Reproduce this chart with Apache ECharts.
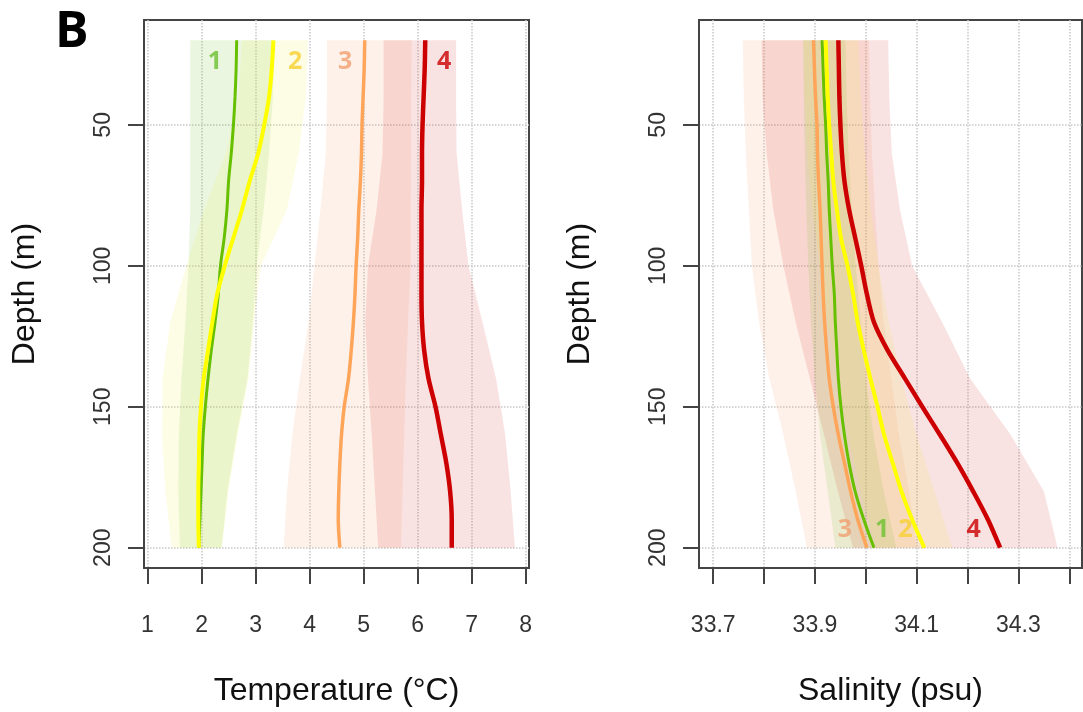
<!DOCTYPE html>
<html>
<head>
<meta charset="utf-8">
<script src="https://cdn.jsdelivr.net/npm/echarts@6.0.0/dist/echarts.min.js"></script>
<style>
html,body{margin:0;padding:0;background:#fff;}
#chart{width:1083px;height:712px;}
</style>
</head>
<body>
<div id="chart"></div>
<script>
// ---------------- DATA ----------------
const depth = [20,30,40,50,60,70,80,90,100,110,120,130,140,150,160,170,180,190,200];

const tempLine1 = [2.65,2.64,2.62,2.59,2.55,2.50,2.47,2.42,2.35,2.31,2.25,2.18,2.12,2.07,2.03,2.01,1.99,1.97,1.95];
const tempLine2 = [3.33,3.30,3.25,3.16,3.05,2.89,2.75,2.59,2.43,2.29,2.20,2.12,2.04,1.99,1.96,1.95,1.94,1.94,1.95];
const tempLine3 = [5.02,5.01,4.99,4.97,4.96,4.94,4.91,4.89,4.86,4.84,4.81,4.77,4.72,4.64,4.59,4.56,4.54,4.53,4.56];
const tempLine4 = [6.14,6.13,6.11,6.09,6.08,6.08,6.07,6.07,6.07,6.07,6.08,6.12,6.20,6.33,6.43,6.53,6.60,6.63,6.63];

const salLine1 = [33.914,33.916,33.918,33.921,33.923,33.926,33.928,33.931,33.934,33.938,33.940,33.943,33.946,33.951,33.958,33.967,33.979,33.996,34.016];
const salLine2 = [33.921,33.923,33.925,33.928,33.932,33.936,33.943,33.951,33.964,33.975,33.984,33.996,34.009,34.023,34.036,34.053,34.070,34.091,34.115];
const salLine3 = [33.897,33.899,33.901,33.904,33.905,33.907,33.910,33.912,33.914,33.916,33.919,33.923,33.928,33.936,33.946,33.958,33.970,33.984,34.002];
const salLine4 = [33.946,33.947,33.948,33.950,33.953,33.958,33.967,33.979,33.991,34.002,34.016,34.043,34.077,34.111,34.146,34.180,34.211,34.240,34.264];

// confidence bands (lower / upper) at bandDepth
const bandDepth = [20,40,60,80,100,120,140,160,180,200];
const tempBand1Lo = [1.79,1.79,1.79,1.79,1.76,1.70,1.63,1.58,1.57,1.60];
const tempBand1Hi = [3.35,3.32,3.25,3.15,3.02,2.95,2.85,2.65,2.48,2.37];
const tempBand2Lo = [2.75,2.68,2.45,2.05,1.72,1.42,1.28,1.27,1.33,1.45];
const tempBand2Hi = [3.97,3.93,3.80,3.58,3.10,2.97,2.87,2.67,2.50,2.38];
const tempBand3Lo = [4.32,4.32,4.30,4.20,4.09,3.98,3.82,3.68,3.58,3.52];
const tempBand3Hi = [5.89,5.88,5.88,5.87,5.87,5.82,5.78,5.75,5.72,5.69];
const tempBand4Lo = [5.37,5.37,5.35,5.24,5.08,5.03,5.08,5.15,5.21,5.27];
const tempBand4Hi = [6.71,6.71,6.72,6.82,6.94,7.20,7.45,7.62,7.72,7.80];

const salBand1Lo = [33.877,33.878,33.880,33.883,33.887,33.892,33.900,33.910,33.925,33.940];
const salBand1Hi = [33.960,33.962,33.966,33.972,33.980,33.990,34.000,34.015,34.035,34.060];
const salBand2Lo = [33.877,33.880,33.885,33.895,33.910,33.925,33.945,33.965,33.990,34.020];
const salBand2Hi = [33.985,33.990,33.998,34.010,34.025,34.045,34.070,34.100,34.135,34.170];
const salBand3Lo = [33.758,33.760,33.764,33.770,33.776,33.790,33.810,33.838,33.862,33.884];
const salBand3Hi = [34.006,34.008,34.012,34.018,34.025,34.035,34.050,34.065,34.085,34.100];
const salBand4Lo = [33.795,33.797,33.805,33.818,33.838,33.862,33.890,33.918,33.945,33.975];
const salBand4Hi = [34.044,34.046,34.051,34.067,34.091,34.150,34.205,34.285,34.350,34.377];

// group label annotations (data units)
const groupNames = ['1','2','3','4'];
const tempLabelT = [2.245,3.733,4.658,6.49];
const tempLabelDepth = 27.6;
const salLabelS = [34.032,34.078,33.959,34.212];
const salLabelDepth = 193.7;

// axis ticks
const tempTicks = [1,2,3,4,5,6,7,8];
const salTicks = [33.7,33.8,33.9,34.0,34.1,34.2,34.3,34.4];
const salTickLabels = [33.7,33.9,34.1,34.3];
const depthTicks = [50,100,150,200];

// ---------------- STYLE ----------------
const lineColors = ['#66c000','#ffff00','#ffa55a','#cc0000'];
const lineWidths = [3,4,3.5,4.5];
const labelColors = ['#6cc030','#f8d030','#f0a070','#cc0000'];
const bandColors = ['rgba(110,190,40,0.14)','rgba(240,240,60,0.13)','rgba(245,160,110,0.15)','rgba(215,60,60,0.15)'];
const FONT = '"Liberation Sans", Arial, sans-serif';

function bandSeries(idx, lo, hi, color) {
  const pts = lo.map((v,i)=>[v,bandDepth[i]]).concat(hi.map((v,i)=>[v,bandDepth[i]]).reverse());
  return {
    type:'custom', xAxisIndex:idx, yAxisIndex:idx, data:pts, silent:true, z:1,
    renderItem:(params, api)=>{
      if (params.dataIndex !== 0) return null;
      return {type:'polygon', shape:{points: pts.map(p=>api.coord(p))}, style:{fill:color}};
    }
  };
}
function lineSeries(idx, xs, k) {
  return {
    type:'line', xAxisIndex:idx, yAxisIndex:idx, data: xs.map((v,i)=>[v,depth[i]]),
    showSymbol:false, smooth:0.3, silent:true, z:3,
    lineStyle:{color:lineColors[k], width:lineWidths[k]}
  };
}
function labelSeries(idx, xs, yv) {
  return {
    type:'scatter', xAxisIndex:idx, yAxisIndex:idx, symbolSize:0, silent:true, z:5,
    data: xs.map((v,i)=>({name:groupNames[i], value:[v,yv],
      label:{show:true, position:'inside', formatter:groupNames[i], color:labelColors[i],
        fontFamily:'"Open Sans", Lato, sans-serif', fontWeight:'bold', fontSize:25}}))
  };
}

function xAxisCfg(idx, min, max, ticks, labels, name) {
  return {
    type:'value', gridIndex:idx, min:min, max:max, position:'bottom',
    axisLine:{show:true, onZero:false, lineStyle:{color:'#444', width:2}},
    axisTick:{show:true, inside:false, length:16, customValues:ticks, lineStyle:{color:'#444', width:2}},
    axisLabel:{customValues:labels, fontSize:23, color:'#333', margin:46, fontFamily:FONT,
      formatter:(v)=> idx===1 ? Number(v).toFixed(1) : String(Math.round(v))},
    splitLine:{show:true, lineStyle:{color:'#c8c8c8', type:'dotted', width:1.5}},
    name:name, nameLocation:'middle', nameGap:107,
    nameTextStyle:{fontSize:32, color:'#111', fontFamily:FONT}
  };
}
function yAxisCfg(idx) {
  return {
    type:'value', gridIndex:idx, inverse:true, min:12.8, max:207.2,
    axisLine:{show:true, onZero:false, lineStyle:{color:'#444', width:2}},
    axisTick:{show:true, inside:false, length:16, customValues:depthTicks, lineStyle:{color:'#444', width:2}},
    axisLabel:{customValues:depthTicks, rotate:90, fontSize:23, color:'#333', margin:29, fontFamily:FONT},
    splitLine:{show:true, lineStyle:{color:'#c8c8c8', type:'dotted', width:1.5}},
    name:'Depth (m)', nameLocation:'middle', nameGap:103, nameRotate:90,
    nameTextStyle:{fontSize:32, color:'#111', fontFamily:FONT}
  };
}

const chart = echarts.init(document.getElementById('chart'), null, {renderer:'canvas'});
const option = {
  backgroundColor:'#ffffff',
  animation:false,
  grid:[
    {left:144, top:20, width:385, height:554, show:true, borderColor:'#444', borderWidth:2, backgroundColor:'transparent'},
    {left:699, top:20, width:383, height:554, show:true, borderColor:'#444', borderWidth:2, backgroundColor:'transparent'}
  ],
  xAxis:[
    xAxisCfg(0, 0.935, 8.06, tempTicks, tempTicks, 'Temperature (°C)'),
    xAxisCfg(1, 33.672, 34.425, salTicks, salTickLabels, 'Salinity (psu)')
  ],
  yAxis:[yAxisCfg(0), yAxisCfg(1)],
  graphic:[{type:'text', left:55, top:8, style:{text:'B', font:'bold 50px "Open Sans", Lato, sans-serif', fill:'#000'}}],
  series:[
    bandSeries(0,tempBand3Lo,tempBand3Hi,bandColors[2]),
    bandSeries(0,tempBand4Lo,tempBand4Hi,bandColors[3]),
    bandSeries(0,tempBand1Lo,tempBand1Hi,bandColors[0]),
    bandSeries(0,tempBand2Lo,tempBand2Hi,bandColors[1]),
    bandSeries(1,salBand3Lo,salBand3Hi,bandColors[2]),
    bandSeries(1,salBand4Lo,salBand4Hi,bandColors[3]),
    bandSeries(1,salBand1Lo,salBand1Hi,bandColors[0]),
    bandSeries(1,salBand2Lo,salBand2Hi,bandColors[1]),
    lineSeries(0,tempLine1,0), lineSeries(0,tempLine2,1), lineSeries(0,tempLine3,2), lineSeries(0,tempLine4,3),
    lineSeries(1,salLine3,2), lineSeries(1,salLine1,0), lineSeries(1,salLine2,1), lineSeries(1,salLine4,3),
    labelSeries(0,tempLabelT,tempLabelDepth),
    labelSeries(1,salLabelS,salLabelDepth)
  ]
};
chart.setOption(option);
</script>
</body>
</html>
